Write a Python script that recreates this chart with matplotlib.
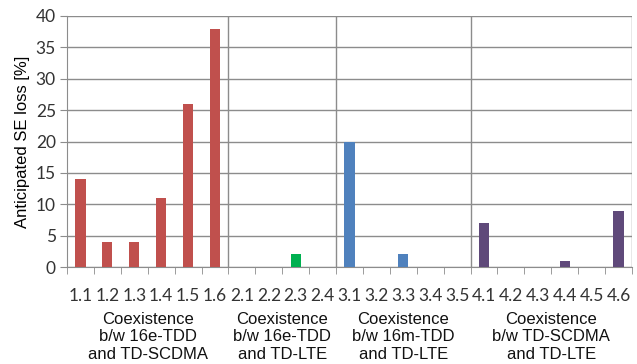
import matplotlib.pyplot as plt
import numpy as np

# Data
labels = ['1.1', '1.2', '1.3', '1.4', '1.5', '1.6',
          '2.1', '2.2', '2.3', '2.4',
          '3.1', '3.2', '3.3', '3.4', '3.5',
          '4.1', '4.2', '4.3', '4.4', '4.5', '4.6']
values = [14, 4, 4, 11, 26, 38,
          0, 0, 2, 0,
          20, 0, 2, 0, 0,
          7, 0, 0, 1, 0, 9]
group_sizes = [6, 4, 5, 6]
group_names = ['Coexistence\nb/w 16e-TDD\nand TD-SCDMA',
               'Coexistence\nb/w 16e-TDD\nand TD-LTE',
               'Coexistence\nb/w 16m-TDD\nand TD-LTE',
               'Coexistence\nb/w TD-SCDMA\nand TD-LTE']
group_colors = ['#C0504D', '#00B050', '#4F81BD', '#5F497A']

grid_c = '#8C8C8C'

fig = plt.figure(figsize=(6.37, 3.64), dpi=100)
ax = fig.add_axes([67 / 637, 1 - 267 / 364, 565 / 637, 251 / 364])

x = np.arange(len(labels))
colors = []
for size, c in zip(group_sizes, group_colors):
    colors += [c] * size
ax.bar(x, values, width=0.38, color=colors, zorder=3)

ax.set_xlim(-0.5, len(labels) - 0.5)
ax.set_ylim(0, 40)
ax.set_yticks(range(0, 41, 5))
ax.yaxis.grid(True, color=grid_c, linewidth=1.0, zorder=0)
ax.tick_params(axis='y', length=5, color=grid_c, labelsize=12.5, labelcolor='#333333', pad=3)
for t in ax.get_yticklabels():
    t.set_fontfamily('Lato')

# category ticks
ax.set_xticks(x)
ax.set_xticklabels(labels, fontsize=12.5, fontfamily='Lato', color='#333333')
ax.tick_params(axis='x', length=0, pad=15)
ax.set_xticks(np.arange(-0.5, len(labels)), minor=True)
ax.tick_params(axis='x', which='minor', length=5, color=grid_c, direction='out')

for s in ['top', 'right']:
    ax.spines[s].set_visible(False)
ax.spines['left'].set_color(grid_c)
ax.spines['bottom'].set_color(grid_c)

# group separators and labels
start = 0
for i, (size, name) in enumerate(zip(group_sizes, group_names)):
    end = start + size
    ax.axvline(end - 0.5, color=grid_c, linewidth=1.0, zorder=1)
    ax.text((start + end - 1) / 2, -0.178, name, transform=ax.get_xaxis_transform(),
            ha='center', va='top', fontsize=12, fontfamily='Liberation Sans',
            linespacing=1.22, color='#111111', clip_on=False)
    start = end

ax.set_ylabel('Anticipated SE loss [%]', fontsize=12, fontfamily='Liberation Sans', labelpad=4)

plt.savefig('out.png', dpi=100)
